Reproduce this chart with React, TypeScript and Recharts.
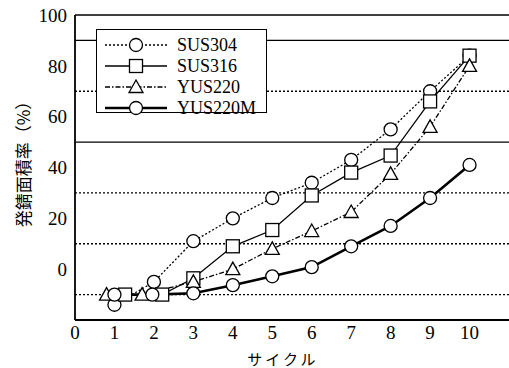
import { LineChart, Line, XAxis, YAxis, ReferenceLine } from 'recharts';

// Cycle positions per series (points near the start are nudged apart so markers don't hide each other)
const sus304Cycle = [1, 2, 3, 4, 5, 6, 7, 8, 9, 10];
const sus304Rate = [-14, -5, 11, 20, 28, 34, 43, 55, 70, 84];

const sus316Cycle = [1.27, 2.21, 3, 4, 5, 6, 7, 8, 9, 10];
const sus316Rate = [-10, -10, -3.6, 9, 15.4, 29, 38, 44.7, 66, 84];

const yus220Cycle = [0.8, 1.7, 3, 4, 5, 6, 7, 8, 9, 10];
const yus220Rate = [-10, -10, -5, 0, 8, 15, 22.5, 37.5, 56, 80];

const yus220mCycle = [1, 1.96, 3, 4, 5, 6, 7, 8, 9, 10];
const yus220mRate = [-10, -10, -9.5, -6.3, -2.8, 0.8, 9, 17, 28, 41];

const xTicks = [0, 1, 2, 3, 4, 5, 6, 7, 8, 9, 10];
const yTicks = [0, 20, 40, 60, 80, 100];
const solidGrid = [100, 90, 50];
const dottedGrid = [70, 30, 10, -10];

const toRows = (xs: number[], ys: number[]) => xs.map((x, i) => ({ x, y: ys[i] }));

const INK = '#000';
const NUM_FONT = '"Liberation Serif", "DejaVu Serif", serif';
const JP_FONT = '"Noto Sans CJK JP", sans-serif';

type Marker = 'circle' | 'square' | 'triangle';

function markerShape(kind: Marker, cx: number, cy: number, key?: string) {
  const common = { fill: '#fff', stroke: INK, strokeWidth: 1.3 };
  if (kind === 'circle') return <circle key={key} cx={cx} cy={cy} r={6.5} {...common} />;
  if (kind === 'square') return <rect key={key} x={cx - 6.5} y={cy - 6.5} width={13} height={13} {...common} />;
  return <path key={key} d={`M${cx},${cy - 7} L${cx + 7},${cy + 5.5} L${cx - 7},${cy + 5.5} Z`} {...common} />;
}

const makeDot = (kind: Marker) => (props: any) =>
  markerShape(kind, props.cx, props.cy, `${kind}-${props.index}`);

const series = [
  { name: 'SUS304', data: toRows(sus304Cycle, sus304Rate), marker: 'circle' as Marker, dash: '2 2', width: 1.3 },
  { name: 'SUS316', data: toRows(sus316Cycle, sus316Rate), marker: 'square' as Marker, dash: undefined, width: 1.3 },
  { name: 'YUS220', data: toRows(yus220Cycle, yus220Rate), marker: 'triangle' as Marker, dash: '5 2 1.5 2', width: 1.3 },
  { name: 'YUS220M', data: toRows(yus220mCycle, yus220mRate), marker: 'circle' as Marker, dash: undefined, width: 2.6 },
];

// Boxed legend drawn over the plot's upper-left corner
function LegendBox() {
  return (
    <div
      style={{
        position: 'absolute',
        top: 29,
        left: 96,
        background: '#fff',
        border: `1.5px solid ${INK}`,
        width: 171,
        height: 84,
        boxSizing: 'border-box',
        padding: '4px 0 0 6px',
      }}
    >
      {series.map((s) => (
        <div key={s.name} style={{ display: 'flex', alignItems: 'center', height: 21 }}>
          <svg width={66} height={18}>
            <line x1={2} y1={9} x2={64} y2={9} stroke={INK} strokeWidth={s.width} strokeDasharray={s.dash} />
            {markerShape(s.marker, 33, 9)}
          </svg>
          <span style={{ fontFamily: NUM_FONT, fontSize: 18, color: INK, marginLeft: 8, lineHeight: '18px' }}>
            {s.name}
          </span>
        </div>
      ))}
    </div>
  );
}

const titleStyle = {
  position: 'absolute' as const,
  fontFamily: JP_FONT,
  color: INK,
  whiteSpace: 'nowrap' as const,
  lineHeight: 1,
};

export default function App() {
  return (
    <div style={{ position: 'fixed', top: 0, left: 0, width: 509, height: 368, background: '#fff', overflow: 'hidden' }}>
      <LineChart width={509} height={368} margin={{ top: 15, right: 0, bottom: 0, left: 0 }}>
        <XAxis
          type="number"
          dataKey="x"
          domain={[0, 11]}
          ticks={xTicks}
          allowDataOverflow
          height={48}
          stroke={INK}
          strokeWidth={1.8}
          tickLine={false}
          tickSize={4}
          tick={{ fontFamily: NUM_FONT, fontSize: 19, fill: INK }}
        />
        <YAxis
          type="number"
          domain={[-20, 100]}
          ticks={yTicks}
          allowDataOverflow
          width={75}
          stroke={INK}
          strokeWidth={1.8}
          tickLine={false}
          tick={{ fontFamily: NUM_FONT, fontSize: 19, fill: INK }}
        />
        {solidGrid.map((v) => (
          <ReferenceLine key={`s${v}`} y={v} stroke={INK} strokeWidth={1.4} />
        ))}
        {dottedGrid.map((v) => (
          <ReferenceLine key={`d${v}`} y={v} stroke={INK} strokeWidth={1.4} strokeDasharray="2 2" />
        ))}
        {series.map((s) => (
          <Line
            key={s.name}
            name={s.name}
            data={s.data}
            dataKey="y"
            type="linear"
            stroke={INK}
            strokeWidth={s.width}
            strokeDasharray={s.dash}
            dot={makeDot(s.marker)}
            activeDot={false}
            isAnimationActive={false}
          />
        ))}
      </LineChart>
      <LegendBox />
      <div
        style={{
          ...titleStyle,
          fontSize: 17,
          left: 22,
          top: 160,
          transform: 'translate(-50%, -50%) rotate(-90deg)',
        }}
      >
        発錆面積率（%）
      </div>
      <div
        style={{
          ...titleStyle,
          fontSize: 15,
          letterSpacing: 3,
          left: 283,
          top: 358,
          transform: 'translate(-50%, -50%)',
        }}
      >
        サイクル
      </div>
    </div>
  );
}
